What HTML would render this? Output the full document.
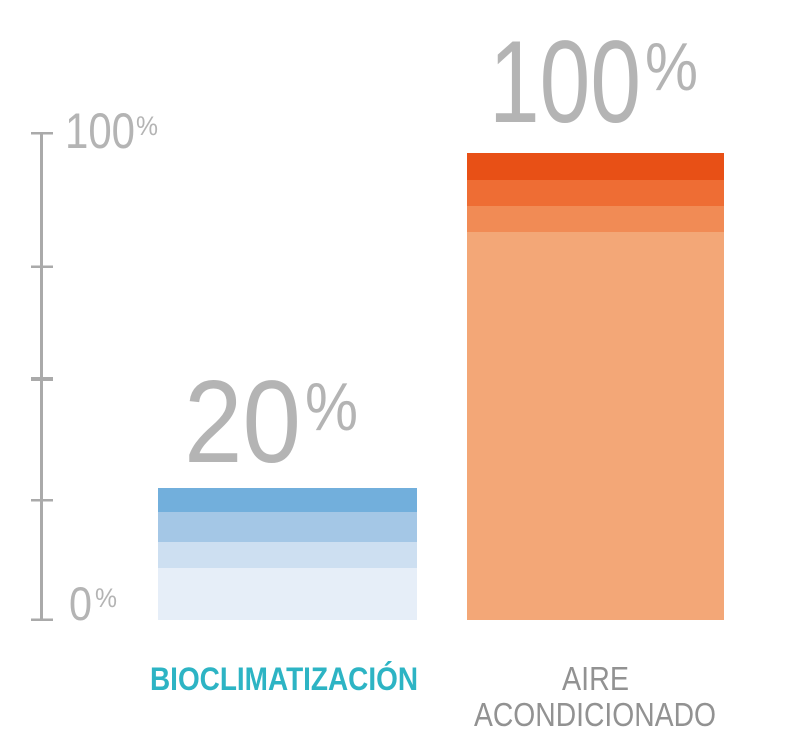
<!DOCTYPE html>
<html><head><meta charset="utf-8"><style>
html,body{margin:0;padding:0;background:#fff;}
svg{display:block;}
text{font-family:"Liberation Sans",sans-serif;}
</style></head><body>
<svg width="789" height="755" viewBox="0 0 789 755">
<g fill="#aaaaaa">
<rect x="40" y="133" width="3" height="487"/>
<rect x="31" y="132" width="22" height="2.5"/>
<rect x="31" y="265.5" width="22" height="2.5"/>
<rect x="31" y="377" width="22" height="4"/>
<rect x="31" y="499" width="22" height="2.5"/>
<rect x="31" y="618.5" width="22" height="2.5"/>
</g>
<g fill="#b4b4b4">
<text x="65" y="148" font-size="50" textLength="70" lengthAdjust="spacingAndGlyphs">100</text>
<text x="136" y="135" font-size="27" textLength="22" lengthAdjust="spacingAndGlyphs">%</text>
<text x="69" y="620" font-size="47" textLength="23" lengthAdjust="spacingAndGlyphs">0</text>
<text x="95" y="607" font-size="27" textLength="22" lengthAdjust="spacingAndGlyphs">%</text>
<text x="489" y="122" font-size="117" textLength="152" lengthAdjust="spacingAndGlyphs">100</text>
<text x="645" y="90" font-size="68" textLength="53" lengthAdjust="spacingAndGlyphs">%</text>
<text x="184" y="462" font-size="117" textLength="117" lengthAdjust="spacingAndGlyphs">20</text>
<text x="305" y="430" font-size="68" textLength="53" lengthAdjust="spacingAndGlyphs">%</text>
</g>
<rect x="158" y="488" width="259" height="24" fill="#72afdc"/>
<rect x="158" y="512" width="259" height="30" fill="#a4c7e6"/>
<rect x="158" y="542" width="259" height="26" fill="#cddff1"/>
<rect x="158" y="568" width="259" height="52" fill="#e6eef8"/>
<rect x="467" y="153" width="257" height="27" fill="#e85016"/>
<rect x="467" y="180" width="257" height="26" fill="#ee6d34"/>
<rect x="467" y="206" width="257" height="26" fill="#f18b55"/>
<rect x="467" y="232" width="257" height="388" fill="#f3a777"/>
<text x="150" y="690" font-size="32" font-weight="bold" fill="#2db4c4" textLength="268" lengthAdjust="spacingAndGlyphs">BIOCLIMATIZACIÓN</text>
<text x="562" y="690" font-size="33" fill="#929292" textLength="67" lengthAdjust="spacingAndGlyphs">AIRE</text>
<text x="474" y="726" font-size="33" fill="#929292" textLength="242" lengthAdjust="spacingAndGlyphs">ACONDICIONADO</text>
</svg>
</body></html>
